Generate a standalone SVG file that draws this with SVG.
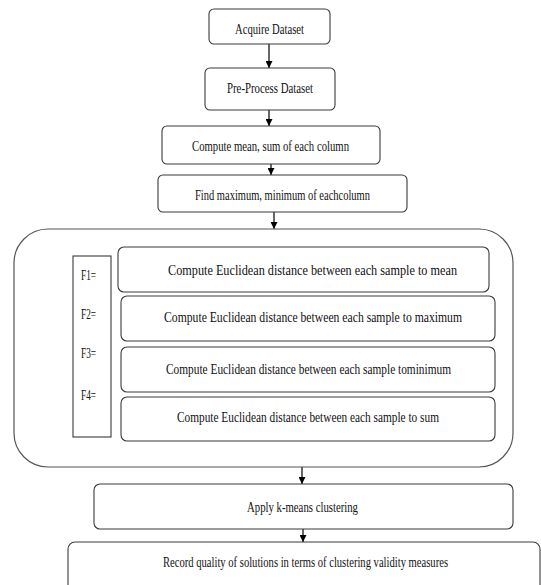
<svg xmlns="http://www.w3.org/2000/svg" width="541" height="585" viewBox="0 0 541 585">
<defs>
<marker id="ah" viewBox="0 0 10 10" refX="10" refY="5" markerWidth="7" markerHeight="7" markerUnits="userSpaceOnUse" orient="auto">
<path d="M0,0 L10,5 L0,10 z" fill="#000"/>
</marker>
<style>
.box{fill:#fff;stroke:#3a3a3a;stroke-width:1.1}
.big{fill:#fff;stroke:#555;stroke-width:1.2}
.t{font-family:"Liberation Serif","Times New Roman",serif;font-size:14.5px;fill:#111;text-anchor:middle;dominant-baseline:central}
.f{font-family:"Liberation Serif","Times New Roman",serif;font-size:15px;fill:#111;dominant-baseline:central}
.c{stroke:#000;stroke-width:1.2;fill:none;marker-end:url(#ah)}
</style>
</defs>
<rect width="541" height="585" fill="#fff"/>
<g id="connectors">
<line class="c" x1="269" y1="44" x2="269" y2="68"/>
<line class="c" x1="269" y1="110" x2="269" y2="126"/>
<line class="c" x1="271" y1="164" x2="271" y2="175"/>
<line class="c" x1="274" y1="212" x2="274" y2="229"/>
<line class="c" x1="302" y1="467" x2="302" y2="484"/>
<line class="c" x1="303" y1="529" x2="303" y2="542"/>
</g>
<g id="acquire">
<rect class="box" x="209" y="9" width="121" height="35" rx="5"/>
<text class="t" x="269.5" y="29" textLength="69" lengthAdjust="spacingAndGlyphs">Acquire Dataset</text>
</g>
<g id="preprocess">
<rect class="box" x="205" y="68" width="130" height="42" rx="5"/>
<text class="t" x="270" y="88" textLength="86" lengthAdjust="spacingAndGlyphs">Pre-Process Dataset</text>
</g>
<g id="mean-sum">
<rect class="box" x="162" y="126" width="218" height="38" rx="5"/>
<text class="t" x="270.5" y="146" textLength="157" lengthAdjust="spacingAndGlyphs">Compute mean, sum of each column</text>
</g>
<g id="max-min">
<rect class="box" x="158" y="175" width="249" height="37" rx="5"/>
<text class="t" x="282.5" y="195" textLength="175" lengthAdjust="spacingAndGlyphs">Find maximum, minimum of eachcolumn</text>
</g>
<g id="features">
<rect class="big" x="14" y="229" width="499" height="238" rx="34"/>
<g id="f-labels">
<rect class="box" x="73" y="256" width="38" height="181" rx="0"/>
<text class="f" x="81" y="275" textLength="15" lengthAdjust="spacingAndGlyphs">F1=</text>
<text class="f" x="81" y="314" textLength="15" lengthAdjust="spacingAndGlyphs">F2=</text>
<text class="f" x="81" y="353" textLength="15" lengthAdjust="spacingAndGlyphs">F3=</text>
<text class="f" x="81" y="395" textLength="15" lengthAdjust="spacingAndGlyphs">F4=</text>
</g>
<g id="f1">
<rect class="box" x="118" y="247" width="371" height="45" rx="6"/>
<text class="t" x="312.5" y="270" textLength="289" lengthAdjust="spacingAndGlyphs">Compute Euclidean distance between each sample to mean</text>
</g>
<g id="f2">
<rect class="box" x="121" y="296" width="374" height="45" rx="6"/>
<text class="t" x="313" y="317" textLength="298" lengthAdjust="spacingAndGlyphs">Compute Euclidean distance between each sample to maximum</text>
</g>
<g id="f3">
<rect class="box" x="121" y="347" width="374" height="45" rx="6"/>
<text class="t" x="308.5" y="369" textLength="285" lengthAdjust="spacingAndGlyphs">Compute Euclidean distance between each sample tominimum</text>
</g>
<g id="f4">
<rect class="box" x="121" y="397" width="374" height="44" rx="6"/>
<text class="t" x="308" y="417" textLength="262" lengthAdjust="spacingAndGlyphs">Compute Euclidean distance between each sample to sum</text>
</g>
</g>
<g id="kmeans">
<rect class="box" x="94" y="484" width="419" height="45" rx="6"/>
<text class="t" x="302.5" y="507" textLength="111" lengthAdjust="spacingAndGlyphs">Apply k-means clustering</text>
</g>
<g id="record">
<rect class="box" x="68" y="542" width="472" height="50" rx="7"/>
<text class="t" x="305.5" y="562" textLength="285" lengthAdjust="spacingAndGlyphs">Record quality of solutions in terms of clustering validity measures</text>
</g>
</svg>
